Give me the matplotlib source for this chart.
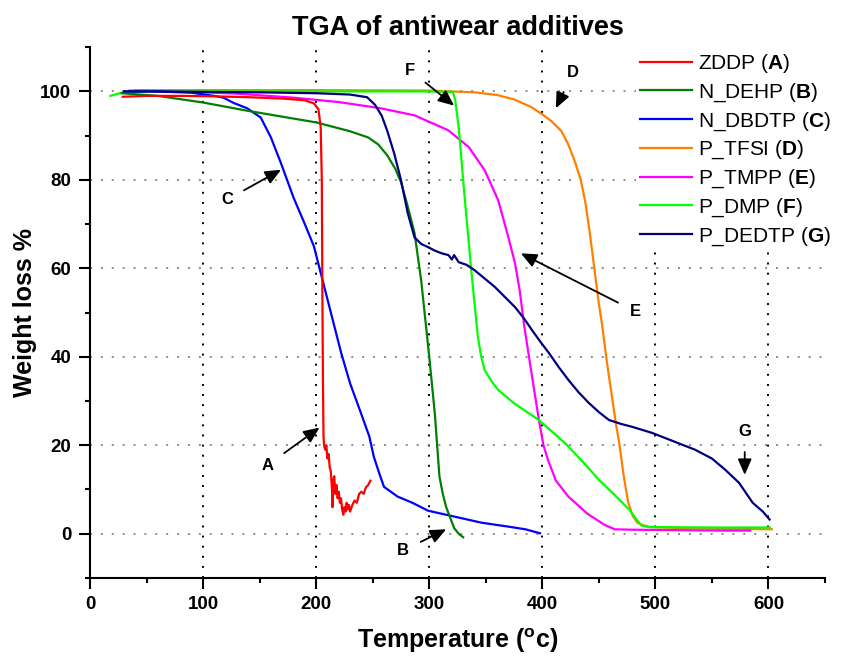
import matplotlib
matplotlib.use("Agg")
import matplotlib.pyplot as plt
from matplotlib.ticker import MultipleLocator

plt.rcParams['font.family'] = ['Liberation Sans', 'DejaVu Sans']
plt.rcParams['mathtext.fontset'] = 'custom'
plt.rcParams['mathtext.rm'] = 'Liberation Sans'
plt.rcParams['mathtext.bf'] = 'Liberation Sans:bold'

# ---- data (Temperature in C, Weight %) ----
T_A = [29, 50, 80, 110, 140, 170, 190, 198, 202, 204, 205, 205.5, 206, 206.5, 207, 208, 209, 210, 211, 212,
       213, 214, 214.5, 215, 216, 217, 218, 219, 220, 221, 222, 223, 224, 225, 226, 227, 228, 229, 230, 232,
       234, 236, 238, 240, 242, 244, 246, 248]
W_A = [98.8, 99.0, 99.0, 98.9, 98.7, 98.4, 98.0, 97.3, 96.0, 92, 80, 55, 35, 22, 20, 19, 20, 17, 18, 15,
       14, 10, 6, 12, 13, 9, 11, 8, 9.5, 7, 8, 5.5, 4.3, 6, 5, 7, 5.5, 6.5, 5, 6.5,
       7.5, 7, 9, 9.5, 9, 10.5, 11, 12]

T_B = [28, 60, 100, 140, 170, 200, 230, 246, 255, 263, 270, 275, 281, 287, 293, 300, 305, 309, 312, 315,
       318, 322, 326, 330]
W_B = [99.6, 99.0, 97.5, 95.6, 94.3, 93.0, 91.0, 89.6, 88.0, 85.5, 82.5, 79.5, 74, 68, 57, 40, 27, 13, 9, 6,
       4, 1.3, 0, -0.8]

T_C = [30, 60, 90, 110, 118, 127, 139, 151, 160, 169, 175, 180, 190, 198, 207, 215, 222, 230,
       240, 247, 251, 256, 260, 266, 272, 285, 299, 320, 346, 370, 385, 398]
W_C = [100, 100, 99.7, 99.0, 98.6, 97.4, 96.2, 94.1, 89.6, 83.7, 79.5, 76, 70, 65, 56, 48, 41, 34,
       27, 22, 17.4, 13.5, 10.6, 9.5, 8.4, 7.0, 5.2, 4.0, 2.5, 1.6, 1.0, 0.1]

T_D = [40, 100, 200, 300, 340, 360, 375, 390, 399, 408, 417, 423, 429, 434, 438, 442, 446, 450, 453, 457,
       461, 465, 468, 472, 476, 480, 484, 488, 495, 520, 560, 603]
W_D = [100.3, 100.3, 100.3, 100.2, 99.8, 99.2, 98.2, 96.5, 95, 93.3, 91, 88, 84, 80, 75, 68, 60, 52, 47, 39,
       32, 25, 20.5, 13, 7, 4, 2.5, 2, 1.5, 1.3, 1.1, 1.0]

T_E = [35, 80, 130, 180, 220, 257, 287, 317, 335, 349, 361, 370, 376, 380, 384, 391, 397, 401, 405, 412,
       423, 440, 455, 464, 480, 520, 560, 584]
W_E = [100.2, 100, 99.5, 98.6, 97.6, 96.2, 94.6, 91.2, 87.4, 82.2, 75.4, 67, 61, 55, 47, 35.4, 25.7, 20, 16.7, 12,
       8.4, 4.5, 2, 1.0, 0.9, 0.8, 0.7, 0.7]

T_F = [18, 25, 32, 60, 100, 200, 300, 321, 323, 326, 331, 337, 343, 346, 349, 355, 361, 375, 397, 420,
       435, 450, 465, 477, 484, 488, 495, 520, 560, 601]
W_F = [99, 99.5, 100, 100, 100, 100, 100, 99.9, 98, 92, 77, 60, 44.5, 40, 37, 34.5, 32.5, 29.5, 25.7, 20.5,
       16.5, 12.2, 8.5, 5.4, 3, 1.8, 1.5, 1.45, 1.4, 1.4]

T_G = [30, 60, 100, 150, 200, 230, 245, 252, 258, 263, 269, 275, 281, 287, 293, 299, 305, 311, 317, 320,
       322, 326, 333, 340, 350, 358, 367, 376, 384, 391, 398, 406, 415, 423, 432, 441, 450, 459, 470, 479,
       497, 515, 535, 550, 562, 574, 586, 595, 601]
W_G = [100, 100, 99.9, 99.8, 99.6, 99.3, 98.7, 97, 94.5, 91, 86, 80, 72.5, 67, 65.5, 64.8, 64, 63.4, 63, 62,
       63, 61.4, 60.8, 59.6, 57.5, 55.8, 53.5, 51.2, 48.6, 46, 43.5, 40.8, 37.5, 34.8, 32, 29.6, 27.5, 25.7, 24.8, 24.2,
       22.8, 21, 19, 17, 14.4, 11.5, 7, 5, 3.2]

names = ['ZDDP', 'N_DEHP', 'N_DBDTP', 'P_TFSI', 'P_TMPP', 'P_DMP', 'P_DEDTP']
letters = ['A', 'B', 'C', 'D', 'E', 'F', 'G']
colors = ['#FF0000', '#008000', '#0000FF', '#FF8000', '#FF00FF', '#00FF00', '#000080']
zorders = [3.5, 2.6, 2.4, 2.1, 2.2, 2.3, 2.7]
series = [(T_A, W_A), (T_B, W_B), (T_C, W_C), (T_D, W_D), (T_E, W_E), (T_F, W_F), (T_G, W_G)]

# annotation: letter, text position, arrow head position (data coords)
ann_letters = ['A', 'B', 'C', 'D', 'E', 'F', 'G']
ann_text = [(157, 15.5), (277, -3.8), (121, 75.5), (427, 104.2), (482, 50.3), (283, 104.8), (579, 23.0)]
ann_head = [(203, 24), (315, 1), (169, 82.3), (412, 96.2), (381, 63.4), (322, 96.8), (579, 13.3)]

fig = plt.figure(figsize=(8.41, 6.56), dpi=100)
ax = fig.add_axes([0.107, 0.119, 0.874, 0.809])

for (t, w), nm, lt, c, z in zip(series, names, letters, colors, zorders):
    ax.plot(t, w, color=c, lw=1.6, zorder=z, label=nm + r' ($\mathbf{' + lt + '}$)')

ax.set_xlim(0, 650)
ax.set_ylim(-10, 110)
ax.xaxis.set_major_locator(MultipleLocator(100))
ax.xaxis.set_minor_locator(MultipleLocator(50))
ax.yaxis.set_major_locator(MultipleLocator(20))
ax.yaxis.set_minor_locator(MultipleLocator(10))
ax.set_yticks([0, 20, 40, 60, 80, 100])

for xv in [100, 200, 300, 400, 500, 600]:
    ax.axvline(xv, color='black', lw=1.4, ls=(0, (1, 4.2)), zorder=0)
for yv in [0, 20, 40, 60, 80, 100]:
    ax.axhline(yv, color='#8c8c8c', lw=1.4, ls=(0, (1, 4.6)), zorder=0)

for s in ['top', 'right']:
    ax.spines[s].set_visible(False)
for s in ['left', 'bottom']:
    ax.spines[s].set_linewidth(1.5)

ax.tick_params(which='major', direction='out', length=8, width=1.5, labelsize=13.5)
ax.tick_params(axis='x', which='major', pad=5)
ax.tick_params(axis='y', which='major', pad=5.5)
ax.tick_params(which='minor', direction='out', length=3.6, width=1.5)
for lab in ax.get_xticklabels() + ax.get_yticklabels():
    lab.set_fontweight('bold')

ax.set_xlabel(r'Temperature ($^{\mathbf{o}}$c)', fontsize=18, fontweight='bold', labelpad=10)
ax.set_ylabel('Weight loss %', fontsize=18, fontweight='bold', labelpad=2)
ax.set_title('TGA of antiwear additives', fontsize=19.5, fontweight='bold', pad=9)

for lt, tp, hp in zip(ann_letters, ann_text, ann_head):
    ax.annotate(lt, xy=hp, xytext=tp, fontsize=12, fontweight='bold', ha='center', va='center',
                zorder=5,
                arrowprops=dict(arrowstyle='-|>,head_length=0.8,head_width=0.35', color='black', lw=1.3,
                                shrinkA=7, shrinkB=0))

leg = fig.legend(loc='upper left', bbox_to_anchor=(0.756, 0.927), fontsize=15, frameon=True,
                 facecolor='white', edgecolor='none', framealpha=1, handlelength=2.5, handletextpad=0.3,
                 labelspacing=0.3, borderpad=0.2, borderaxespad=0)

fig.savefig('out.png', dpi=100)
